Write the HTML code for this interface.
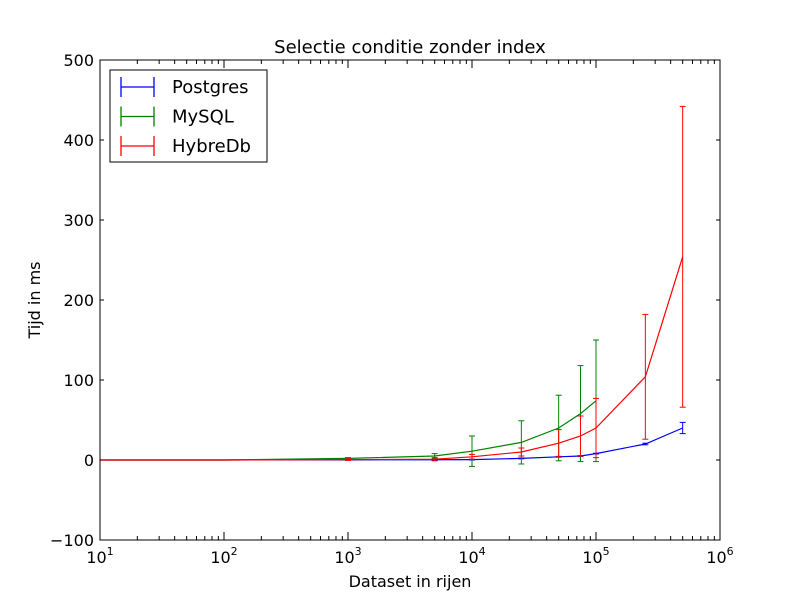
<!DOCTYPE html>
<html><head><meta charset="utf-8"><style>
body{margin:0;background:#fff;font-family:"DejaVu Sans","Liberation Sans",sans-serif}
</style></head><body>
<svg width="800" height="600" viewBox="0 0 800 600" font-family="DejaVu Sans, Liberation Sans, sans-serif">
<rect width="800" height="600" fill="#fff"/>
<text x="410" y="53" font-size="18" text-anchor="middle">Selectie conditie zonder index</text>
<text x="410" y="587" font-size="16" text-anchor="middle">Dataset in rijen</text>
<text transform="translate(40,300) rotate(-90)" font-size="16" text-anchor="middle">Tijd in ms</text>
<g id="ticks"></g>
<g id="series"></g>
<rect x="100" y="60" width="620" height="480" fill="none" stroke="#000" stroke-width="1"/>
<g>
<rect x="110" y="70" width="157" height="92" fill="#fff" stroke="#000"/>
<g id="legend"></g>
</g>
</svg>
<script>
const xVals=[10,100,1000,5000,10000,25000,50000,75000,100000,250000,500000];
const pgVals=[0,0,0.2,0.3,0.5,2,4,5,8,20,40];
const pgErr=[0,0,0.5,0.5,0.5,0.5,0.5,0.5,0.5,1,7];
const myVals=[0,0,2,5,11,22,40,58,74];
const myErr=[0,0,1,3,19,27,41,60,76];
const hyVals=[0,0,0.5,1,4,10,21,30,40,104,254];
const hyErr=[0,0,1,2,3,5,17,25,37,78,188];
const yTicks=[-100,0,100,200,300,400,500];
const xTickExp=[1,2,3,4,5,6];
const X=v=>100+(Math.log10(v)-1)*124;
const Y=v=>460-v*0.8;
const NS="http://www.w3.org/2000/svg";
function mk(tag,attrs,parent){const e=document.createElementNS(NS,tag);for(const k in attrs)e.setAttribute(k,attrs[k]);parent.appendChild(e);return e;}
const tk=document.getElementById('ticks');
yTicks.forEach(t=>{
 const y=Y(t);
 mk('line',{x1:100,x2:104,y1:y,y2:y,stroke:'#000'},tk);
 mk('line',{x1:716,x2:720,y1:y,y2:y,stroke:'#000'},tk);
 const tx=mk('text',{x:94,y:y+6,'font-size':16,'text-anchor':'end'},tk);
 tx.textContent=t<0?'\u2212'+(-t):t;
 
 
});
xTickExp.forEach(e=>{
 const x=X(Math.pow(10,e));
 mk('line',{x1:x,x2:x,y1:540,y2:532,stroke:'#000'},tk);
 mk('line',{x1:x,x2:x,y1:60,y2:68,stroke:'#000'},tk);
 for(let m=2;m<10&&e<6;m++){const xm=X(m*Math.pow(10,e));
  mk('line',{x1:xm,x2:xm,y1:540,y2:536,stroke:'#000'},tk);
  mk('line',{x1:xm,x2:xm,y1:60,y2:64,stroke:'#000'},tk);}
 const tx=mk('text',{x:x,y:563,'font-size':16,'text-anchor':'middle'},tk);
 
 
 tx.innerHTML='10<tspan dy="-8" font-size="11">'+e+'</tspan>';
});
const sg=document.getElementById('series');
function series(vals,err,color,name){
 const g=mk('g',{},sg);
 
 
 vals.forEach((v,i)=>{
  if(err[i]<=0)return;
  const x=X(xVals[i]);
  mk('line',{x1:x,x2:x,y1:Y(v+err[i]),y2:Y(v-err[i]),stroke:color},g);
  mk('line',{x1:x-3,x2:x+3,y1:Y(v+err[i]),y2:Y(v+err[i]),stroke:color},g);
  mk('line',{x1:x-3,x2:x+3,y1:Y(v-err[i]),y2:Y(v-err[i]),stroke:color},g);
 });
 const pts=vals.map((v,i)=>X(xVals[i])+','+Y(v)).join(' ');
 const pl=mk('polyline',{points:pts,fill:'none',stroke:color,'stroke-width':1.2},g);
 
 
}
series(pgVals,pgErr,'#0000ff','postgres');
series(myVals,myErr,'#008000','mysql');
series(hyVals,hyErr,'#ff0000','hybredb');
const lg=document.getElementById('legend');
[['Postgres','#0000ff'],['MySQL','#008000'],['HybreDb','#ff0000']].forEach((d,i)=>{
 const y=87+i*29.5;
 const g=mk('g',{},lg);
 
 
 mk('line',{x1:121,x2:154,y1:y,y2:y,stroke:d[1],'stroke-width':1.3},g);
 mk('line',{x1:121,x2:121,y1:y-10,y2:y+10,stroke:d[1],'stroke-width':1.3},g);
 mk('line',{x1:154,x2:154,y1:y-10,y2:y+10,stroke:d[1],'stroke-width':1.3},g);
 const t=mk('text',{x:172,y:y+6,'font-size':18},g);
 t.textContent=d[0];
});
</script>
</body></html>
